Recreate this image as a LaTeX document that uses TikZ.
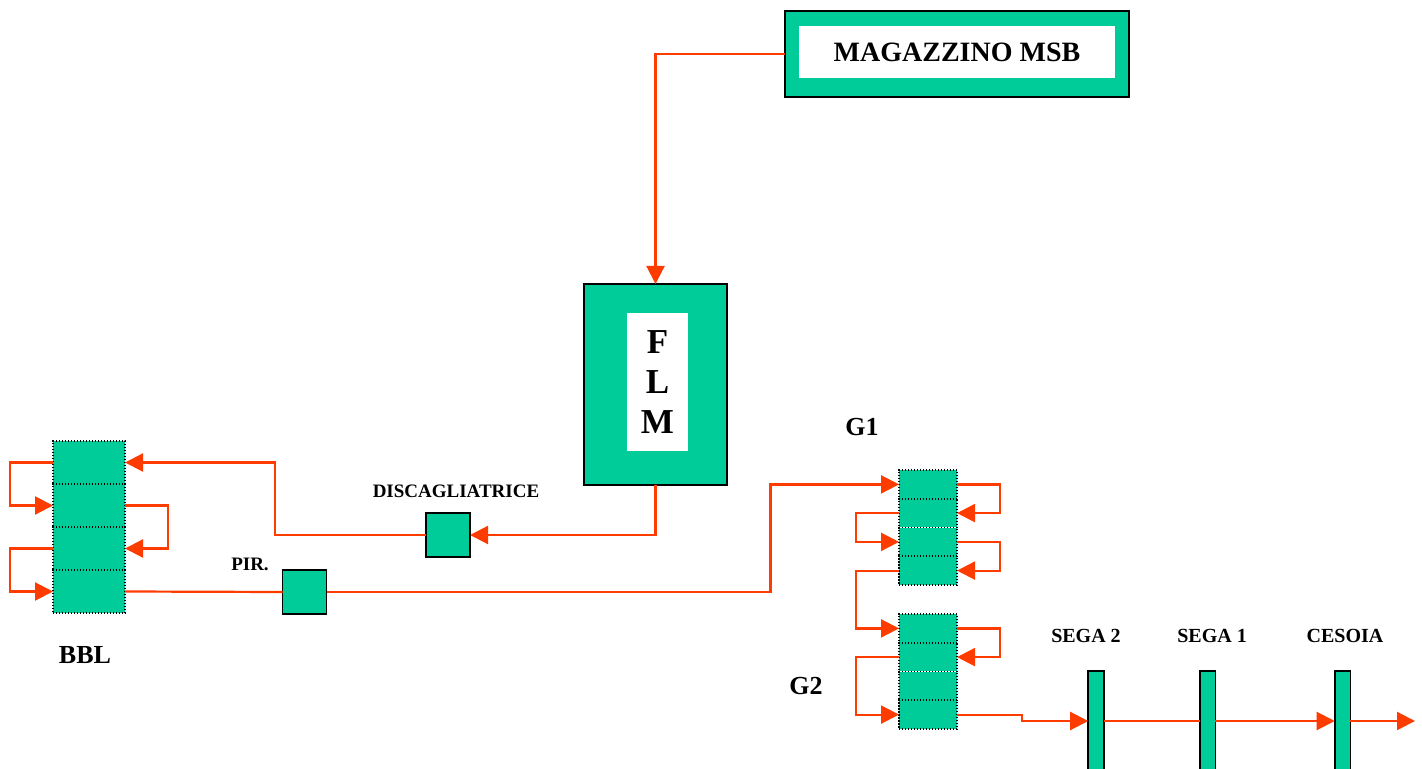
\documentclass[tikz,border=0pt]{standalone}
\usepackage{fontspec}
\setmainfont{Liberation Serif}
\usepackage{tikz}
\usetikzlibrary{arrows.meta,positioning}
\definecolor{plantgreen}{RGB}{0,204,153}
\definecolor{flowred}{RGB}{255,60,0}

\begin{document}
\begin{tikzpicture}[
  x=0.5pt, y=-0.5pt,
  font=\bfseries,
  outerbox/.style={draw=black, line width=1pt, fill=plantgreen, inner sep=0pt, outer sep=0pt},
  innerbox/.style={fill=white, inner sep=0pt, outer sep=0pt, align=center},
  machine/.style={draw=black, line width=0.8pt, fill=plantgreen, inner sep=0pt, outer sep=0pt,
    minimum width=22pt, minimum height=22pt},
  cell/.style={draw=black, line width=0.8pt, dash pattern=on 0.6pt off 0.9pt, fill=plantgreen,
    inner sep=0pt, outer sep=0pt},
  saw/.style={draw=black, line width=0.8pt, fill=plantgreen, inner sep=0pt, outer sep=0pt,
    minimum width=7.8pt, minimum height=50pt},
  lbl/.style={inner sep=0pt, fontsize=#1},
  fontsize/.code={\pgfkeysalso{font=\fontsize{#1}{#1}\selectfont\bfseries}},
  flow/.style={draw=flowred, line width=1.1pt, -{Triangle[length=9pt, width=9pt]}},
  link/.style={draw=flowred, line width=1.1pt}
]
\useasboundingbox (0,0) rectangle (1422,769);
\clip (0,0) rectangle (1422,769);

\node[outerbox, minimum width=172pt, minimum height=43pt] (mag) at (957,54) {};
\node[innerbox, minimum width=158pt, minimum height=26pt, lbl=14pt] (magtxt) at (957,52) {MAGAZZINO MSB};

\node[outerbox, minimum width=71.5pt, minimum height=100.5pt] (flm) at (655.5,384.5) {};
\node[innerbox, minimum width=30.5pt, minimum height=69pt,
  font=\fontsize{17.5pt}{20pt}\selectfont\bfseries] (flmtxt) at (657.5,382) {F\\L\\M};

\node[machine] (disc) at (448,535) {};
\node[lbl=9.5pt] (disclbl) at (456,491) {DISCAGLIATRICE};
\node[machine] (pir) at (304.5,592) {};
\node[lbl=9.5pt] (pirlbl) at (250,564) {PIR.};

\foreach \i/\yy in {1/462.5, 2/505.5, 3/548.5, 4/591.5}
  \node[cell, minimum width=36pt, minimum height=21.5pt] (bbl\i) at (89,\yy) {};
\node[lbl=13pt] (bbllbl) at (85,655) {BBL};

\foreach \i/\yy in {1/484.4, 2/513.1, 3/541.9, 4/570.6}
  \node[cell, minimum width=29pt, minimum height=14.375pt] (ga\i) at (928,\yy) {};
\node[lbl=13pt] (galbl) at (862,427) {G1};

\foreach \i/\yy in {1/628.4, 2/657.1, 3/685.9, 4/714.6}
  \node[cell, minimum width=29pt, minimum height=14.375pt] (gb\i) at (928,\yy) {};
\node[lbl=13pt] (gblbl) at (806,686) {G2};

\node[saw] (sega2) at (1096,721) {};
\node[saw] (sega1) at (1207.5,721) {};
\node[saw] (cesoia) at (1342.5,721) {};
\node[lbl=10pt] (sega2lbl) at (1086,636) {SEGA 2};
\node[lbl=10pt] (sega1lbl) at (1212,636) {SEGA 1};
\node[lbl=10pt] (cesoialbl) at (1345,636) {CESOIA};
\coordinate (out) at (1415,721);

\draw[flow] (mag.west) -| (flm.north);
\draw[flow] (flm.south) |- (disc.east);
\draw[flow] (disc.west) -- ++(-151,0) |- (bbl1.east);
\draw[flow] (bbl1.west) -- ++(-43,0) |- (bbl2.west);
\draw[flow] (bbl2.east) -- ++(43,0) |- (bbl3.east);
\draw[flow] (bbl3.west) -- ++(-43,0) |- (bbl4.west);
\draw[link] (bbl4.east) -- (pir.west);
\draw[flow] (pir.east) -- ++(444,0) |- (ga1.west);
\draw[flow] (ga1.east) -- ++(43,0) |- (ga2.east);
\draw[flow] (ga2.west) -- ++(-43,0) |- (ga3.west);
\draw[flow] (ga3.east) -- ++(43,0) |- (ga4.east);
\draw[flow] (ga4.west) -- ++(-43,0) |- (gb1.west);
\draw[flow] (gb1.east) -- ++(43,0) |- (gb2.east);
\draw[flow] (gb2.west) -- ++(-43,0) |- (gb4.west);
\draw[flow] (gb4.east) -- ++(65,0) |- (sega2.west);
\draw[link] (sega2.east) -- (sega1.west);
\draw[flow] (sega1.east) -- (cesoia.west);
\draw[flow] (cesoia.east) -- (out);
\end{tikzpicture}
\end{document}
